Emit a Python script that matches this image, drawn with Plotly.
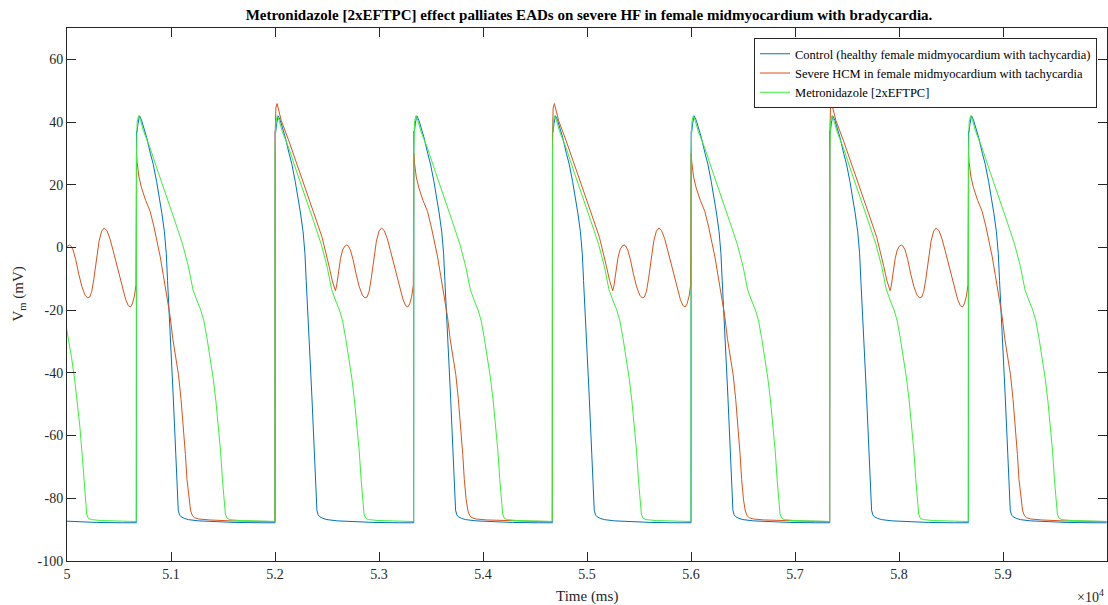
import plotly.graph_objects as go

# ---------------- data ----------------
# beat onsets (ms); pacing cycle ~1333 ms
beat_onsets_ms = [49333.3, 50666.7, 52000.0, 53333.3, 54666.7, 56000.0, 57333.3, 58666.7]
# HCM beat type per onset: alternating beat with EADs / fully repolarising beat
hcm_beat_types = ["ead", "full", "ead", "full", "ead", "full", "ead", "full"]

# Control action-potential shape (time after onset in ms, Vm in mV)
control_t = [0, 1.5, 6, 16, 30, 50, 75, 100, 135, 162, 195, 220, 245, 270, 288, 300, 313, 325,
             340, 355, 368, 380, 392, 403, 415, 430, 460, 500, 600, 750, 950, 1200, 1330]
control_v = [-87.8, 37.0, 36.8, 39.5, 42.0, 40.6, 37.8, 35.0, 30.0, 26.6, 21.0, 16.5, 11.0, 5.0,
             -2.0, -10.5, -18.0, -27.0, -37.5, -47.7, -58.0, -69.0, -78.5, -83.8, -85.3, -85.9,
             -86.4, -86.8, -87.2, -87.5, -87.7, -87.8, -87.8]

# Metronidazole [2xEFTPC] action-potential shape
metro_t = [0, 1.5, 8, 22, 40, 70, 135, 210, 295, 370, 445, 500, 545, 570, 595, 620, 650, 680,
           710, 740, 765, 790, 810, 828, 843, 856, 870, 900, 1000, 1150, 1330]
metro_v = [-87.4, 30.0, 40.0, 42.0, 40.5, 37.0, 31.5, 24.0, 16.0, 8.5, 1.0, -6.0, -13.5, -16.0,
           -18.0, -20.0, -23.5, -29.0, -35.0, -42.0, -49.0, -57.0, -65.0, -74.0, -81.0, -85.0,
           -86.3, -86.8, -87.1, -87.3, -87.4]

# Severe HCM: beat with early after-depolarisations
hcm_ead_t = [0, 1.5, 8, 20, 35, 60, 133, 213, 293, 373, 453, 490, 520, 550, 570, 581, 592, 610,
             630, 650, 670, 690, 704, 725, 750, 780, 810, 840, 865, 886, 905, 925, 950, 975, 1000,
             1024, 1050, 1080, 1110, 1140, 1170, 1200, 1230, 1255, 1277, 1295, 1315, 1330]
hcm_ead_v = [-87.4, 36.0, 44.5, 45.9, 43.5, 40.5, 34.0, 26.5, 19.0, 11.0, 3.2, -1.5, -6.0, -10.5,
             -13.0, -13.8, -12.3, -8.0, -3.5, -0.8, 0.4, 0.8, 0.5, -0.8, -3.8, -8.5, -12.5, -15.2,
             -16.1, -15.8, -14.0, -10.0, -3.5, 2.0, 5.2, 6.2, 5.4, 2.8, -1.0, -5.0, -9.0, -13.0,
             -16.5, -18.5, -19.0, -18.0, -15.5, -12.0]

# Severe HCM: fully repolarising beat (starts from the EAD level)
hcm_full_t = [1.5, 8, 25, 50, 90, 133, 170, 200, 230, 260, 298, 325, 350, 380, 405, 430, 455,
              472, 487, 505, 522, 540, 560, 600, 700, 900, 1100, 1330]
hcm_full_v = [30.0, 27.0, 22.5, 19.0, 15.0, 11.5, 6.5, 2.0, -3.0, -9.0, -16.0, -22.0, -29.0,
              -35.5, -40.5, -48.5, -58.0, -66.0, -74.0, -80.5, -84.0, -85.6, -86.2, -86.6, -86.9,
              -87.2, -87.3, -87.4]

series_names = [
    "Control (healthy female midmyocardium with tachycardia)",
    "Severe HCM in female midmyocardium with tachycardia",
    "Metronidazole [2xEFTPC]",
]
series_colors = ["#0072BD", "#D95319", "#38F038"]

x_tick_vals = [50000, 51000, 52000, 53000, 54000, 55000, 56000, 57000, 58000, 59000]
x_tick_text = ["5", "5.1", "5.2", "5.3", "5.4", "5.5", "5.6", "5.7", "5.8", "5.9"]
y_tick_vals = [-100, -80, -60, -40, -20, 0, 20, 40, 60]
y_tick_text = ["-100", "-80", "-60", "-40", "-20", "0", "20", "40", "60"]

title_text = "Metronidazole [2xEFTPC] effect palliates EADs on severe HF in female midmyocardium with bradycardia."


# ---------------- build traces from the beat shapes ----------------
def train(onsets, shapes):
    xs, ys = [], []
    for on, (ts, vs) in zip(onsets, shapes):
        for t, v in zip(ts, vs):
            xs.append(on + t)
            ys.append(v)
    return xs, ys


ctrl_x, ctrl_y = train(beat_onsets_ms, [(control_t, control_v)] * len(beat_onsets_ms))
met_x, met_y = train(beat_onsets_ms, [(metro_t, metro_v)] * len(beat_onsets_ms))
hcm_shapes = [(hcm_ead_t, hcm_ead_v) if k == "ead" else (hcm_full_t, hcm_full_v) for k in hcm_beat_types]
hcm_x, hcm_y = train(beat_onsets_ms, hcm_shapes)

SERIF = "Liberation Serif"
AX = "#262626"

fig = go.Figure()
for (xs, ys), name, col in zip([(ctrl_x, ctrl_y), (hcm_x, hcm_y), (met_x, met_y)], series_names, series_colors):
    fig.add_trace(go.Scatter(x=xs, y=ys, mode="lines", name=name,
                             line=dict(color=col, width=1)))

axis_common = dict(showline=True, linecolor=AX, linewidth=1, mirror="ticks", ticks="inside",
                   ticklen=9, tickwidth=1, tickcolor=AX, showgrid=False, zeroline=False,
                   tickfont=dict(family=SERIF, size=14, color=AX))

fig.update_layout(
    width=1108, height=605,
    margin=dict(l=67, r=1, t=28, b=44),
    paper_bgcolor="white", plot_bgcolor="white",
    showlegend=True,
    title=dict(text="<b>" + title_text + "</b>", x=589 / 1108, xanchor="center",
               y=1 - 15 / 605, yanchor="middle", yref="container",
               font=dict(family=SERIF, size=15, color="#000")),
    xaxis=dict(range=[50000, 60000], tickvals=x_tick_vals, ticktext=x_tick_text, **axis_common),
    yaxis=dict(range=[-100, 70], tickvals=y_tick_vals, ticktext=y_tick_text, **axis_common),
    legend=dict(x=0.9904, xanchor="right", y=0.981, yanchor="top", bgcolor="white",
                bordercolor=AX, borderwidth=1, itemwidth=30, tracegroupgap=0,
                font=dict(family=SERIF, size=12.5, color="#000")),
    annotations=[
        dict(text="Time (ms)", xref="paper", yref="paper", x=0.5, y=-(596 - 561) / 533,
             xanchor="center", yanchor="middle", showarrow=False,
             font=dict(family=SERIF, size=15, color=AX)),
        dict(text="V<sub>m</sub> (mV)", xref="paper", yref="paper", x=-(67 - 18) / 1040,
             y=0.5, xanchor="center", yanchor="middle", textangle=-90, showarrow=False,
             font=dict(family=SERIF, size=15, color=AX)),
        dict(text="\u00d710<sup>4</sup>", xref="paper", yref="paper", x=(1106 - 67) / 1040,
             y=-(596 - 561) / 533, xanchor="right", yanchor="middle", showarrow=False,
             font=dict(family=SERIF, size=14, color=AX)),
    ],
)

fig.write_html("out.html")
